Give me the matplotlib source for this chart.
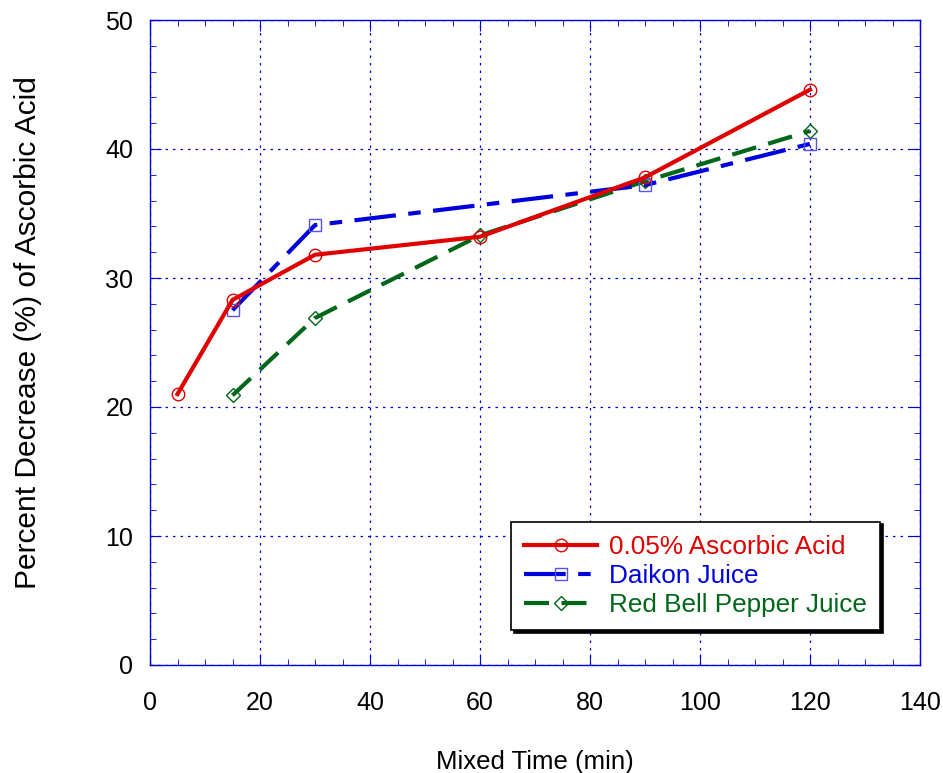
import matplotlib
matplotlib.use("Agg")
import matplotlib.pyplot as plt
from matplotlib.ticker import MultipleLocator

plt.rcParams['font.family'] = ['Liberation Sans', 'DejaVu Sans']

acid_x = [5, 15, 30, 60, 90, 120]
acid_y = [21.0, 28.3, 31.8, 33.2, 37.8, 44.6]
daikon_x = [15, 30, 90, 120]
daikon_y = [27.5, 34.1, 37.2, 40.4]
pepper_x = [15, 30, 60, 90, 120]
pepper_y = [20.9, 26.9, 33.3, 37.5, 41.4]

labels = ["0.05% Ascorbic Acid", "Daikon Juice", "Red Bell Pepper Juice"]

fig = plt.figure(figsize=(9.43, 7.73), dpi=100)
ax = fig.add_axes([150/943, 108/773, 770/943, 645/773])

blue = '#0000dd'
ax.plot(acid_x, acid_y, color='#e00000', lw=3, marker='o', ms=9, mfc='none',
        mec='#e00000', mew=1, label=labels[0], zorder=5)
ax.plot(daikon_x, daikon_y, color='#0000dd', lw=3, marker='s', ms=9, mfc='none',
        mec='#5555ee', mew=1, dashes=(10, 3, 3, 3), label=labels[1], zorder=4)
ax.plot(pepper_x, pepper_y, color='#006619', lw=3, marker='D', ms=7, mfc='none',
        mec='#006619', mew=1, dashes=(6, 3), label=labels[2], zorder=3)

ax.set_xlim(0, 140)
ax.set_ylim(0, 50)
ax.xaxis.set_major_locator(MultipleLocator(20))
ax.xaxis.set_minor_locator(MultipleLocator(5))
ax.yaxis.set_major_locator(MultipleLocator(10))
ax.yaxis.set_minor_locator(MultipleLocator(2))
for s in ax.spines.values():
    s.set_color(blue)
    s.set_linewidth(1)
ax.tick_params(which='both', direction='in', top=True, right=True, color=blue,
               labelsize=18, labelcolor='black')
ax.tick_params(axis='x', pad=19)
ax.tick_params(axis='y', pad=12)
ax.tick_params(which='major', length=8)
ax.tick_params(which='minor', length=4)
ax.grid(which='major', color=blue, linestyle=(0, (2, 4)), lw=0.9)

ax.set_xlabel("Mixed Time (min)", fontsize=18.5)
ax.xaxis.set_label_coords(0.5, -(750 - 665) / 645)
ax.xaxis.label.set_va('top')
ax.set_ylabel("Percent Decrease (%) of Ascorbic Acid", fontsize=21.5)
ax.yaxis.set_label_coords(-0.140, 0.516)

leg = ax.legend(loc='lower right', bbox_to_anchor=(0.948, 0.054), fontsize=18.8,
                frameon=True, fancybox=False, shadow={'color': 'black', 'alpha': 1},
                handlelength=2.8, handletextpad=0.45, borderpad=0.5,
                borderaxespad=0, labelspacing=0.2)
leg.get_frame().set_edgecolor('black')
leg.get_frame().set_linewidth(1.2)
cols = ['#e00000', '#0000dd', '#006619']
for t, c in zip(leg.get_texts(), cols):
    t.set_color(c)

fig.savefig("out.png", dpi=100)
